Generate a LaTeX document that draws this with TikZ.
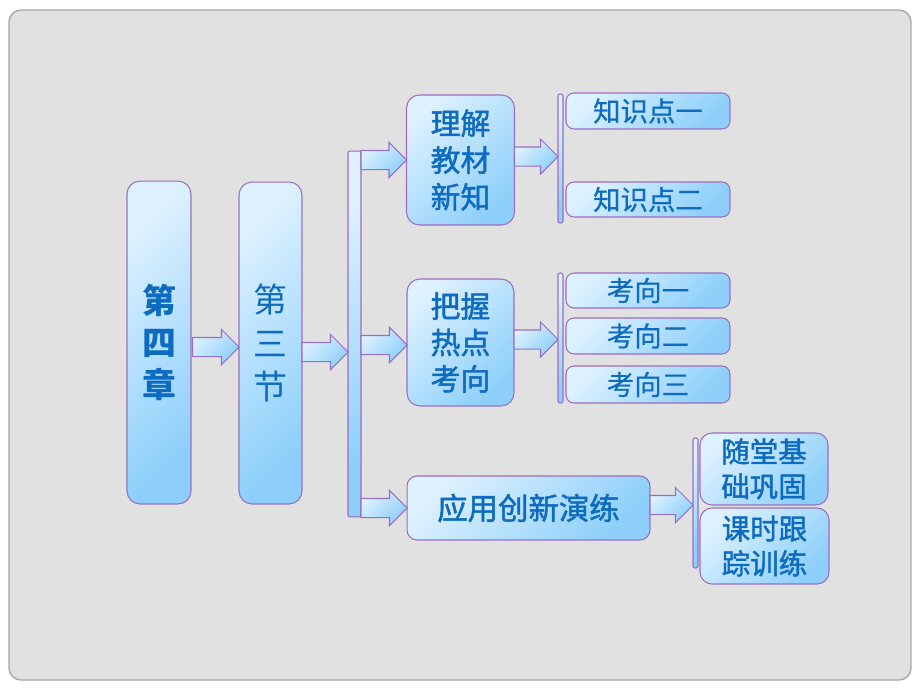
\documentclass[tikz,border=0pt]{standalone}
\usepackage{fontspec}
\setmainfont{Noto Sans CJK SC}
\newfontfamily\semibold{Noto Sans CJK SC}[FakeBold=1.6]
\newfontfamily\lightbold{Noto Sans CJK SC}[FakeBold=0.6]
\usepackage{xcolor}
\definecolor{panelgray}{HTML}{E1E1E1}
\definecolor{panelline}{HTML}{A8A8A8}
\definecolor{boxlight}{HTML}{DDF1FF}
\definecolor{boxdark}{HTML}{8DCFFA}
\definecolor{boxline}{HTML}{9A6EC2}
\definecolor{textblue}{HTML}{0E6CC0}
\usetikzlibrary{shapes.arrows,calc,positioning}

\tikzset{
  shadebox/.style={draw=boxline,line width=0.6pt,top color=boxlight,
    bottom color=boxdark,shading angle=45,text=textblue,
    inner sep=0pt,outer sep=0pt,align=center},
  bigbox/.style={shadebox,rounded corners=0.26cm},
  smallbox/.style={shadebox,rounded corners=0.16cm,minimum width=3.28cm},
  barbox/.style={shadebox,rounded corners=0.04cm},
  fatarrow/.style={single arrow,draw=boxline,line width=0.6pt,
    top color=boxlight,bottom color=boxdark,shading angle=45,
    inner xsep=0pt,inner ysep=0.18cm,single arrow head extend=0.16cm,
    single arrow head indent=0pt,single arrow tip angle=90,
    outer sep=0pt,anchor=tail}
}
% block arrow between two points at the same height
\newcommand{\fatarrow}[2]{%
  \path let \p1=#1, \p2=#2 in
    node[fatarrow,minimum height={\x2-\x1}] at (\p1) {};}

\begin{document}
\begin{tikzpicture}[x=0.02cm,y=-0.02cm]
  \useasboundingbox (0,0) rectangle (920,690);
  % Panel
  \draw[panelline,fill=panelgray,line width=0.8pt,rounded corners=0.24cm]
    (9,10) rectangle (911,680);
  % Chapter and section
  \node[bigbox,minimum width=1.28cm,minimum height=6.46cm,
        font=\fontsize{19.3}{24}\selectfont\bfseries] (chap) at (159,342.5)
        {第\\四\\章};
  \node[bigbox,minimum width=1.26cm,minimum height=6.44cm,
        font=\fontsize{19.3}{25}\selectfont] (sect) at (270.5,343)
        {第\\三\\节};
  \node[barbox,minimum width=0.26cm,minimum height=7.32cm] (bar) at (354.5,334) {};
  % Second level
  \node[bigbox,minimum width=2.16cm,minimum height=2.6cm,
        font=\fontsize{17}{21}\selectfont\semibold] (learn) at (460.5,160)
        {理解\\教材\\新知};
  \node[bigbox,minimum width=2.14cm,minimum height=2.54cm,
        font=\fontsize{17}{20.7}\selectfont\semibold] (grasp) at (460.5,342.5)
        {把握\\热点\\考向};
  \node[bigbox,rounded corners=0.2cm,minimum width=4.86cm,minimum height=1.28cm,
        font=\fontsize{17.3}{21}\selectfont\semibold] (apply) at (528.5,508)
        {应用创新演练};
  % Brackets
  \node[barbox,minimum width=0.1cm,minimum height=2.58cm] (brA) at (560.5,158.5) {};
  \node[barbox,minimum width=0.1cm,minimum height=2.6cm] (brB) at (560.5,338) {};
  \node[barbox,minimum width=0.1cm,minimum height=2.6cm] (brC) at (695.5,503) {};
  % Third level
  \node[smallbox,minimum height=0.72cm,font=\fontsize{15.6}{18}\selectfont\lightbold]
    (kA) at (648,111) {知识点一};
  \node[smallbox,minimum height=0.7cm,font=\fontsize{15.6}{18}\selectfont\lightbold]
    (kB) at (648,199.5) {知识点二};
  \node[smallbox,minimum height=0.7cm,font=\fontsize{15.6}{18}\selectfont\lightbold]
    (xA) at (648,290.5) {考向一};
  \node[smallbox,minimum height=0.72cm,font=\fontsize{15.6}{18}\selectfont\lightbold]
    (xB) at (648,336) {考向二};
  \node[smallbox,minimum height=0.74cm,font=\fontsize{15.6}{18}\selectfont\lightbold]
    (xC) at (648,384.5) {考向三};
  \node[smallbox,rounded corners=0.24cm,minimum width=2.56cm,minimum height=1.44cm,
        font=\fontsize{16.2}{19.8}\selectfont\semibold] (sA) at (764,469)
        {随堂基\\础巩固};
  \node[smallbox,rounded corners=0.24cm,minimum width=2.58cm,minimum height=1.52cm,
        font=\fontsize{16.2}{19.8}\selectfont\semibold] (sB) at (764.5,546)
        {课时跟\\踪训练};
  % Arrows
  \fatarrow{($(chap.east)+(1.5,4.5)$)}{($(sect.west)+(0,4.5)$)}
  \fatarrow{($(sect.east)+(0,9)$)}{($(bar.west)+(0,18)$)}
  \fatarrow{(bar.east |- learn.west)}{(learn.west)}
  \fatarrow{($(bar.east |- grasp.west)+(0,2.5)$)}{($(grasp.west)+(0,2.5)$)}
  \fatarrow{(bar.east |- apply.west)}{(apply.west)}
  \fatarrow{($(learn.east)+(0,-3.5)$)}{($(brA.west |- learn.east)+(0,-3.5)$)}
  \fatarrow{($(grasp.east)+(0,-3)$)}{($(brB.west |- grasp.east)+(0,-3)$)}
  \fatarrow{($(apply.east)+(0,-3)$)}{($(brC.west |- apply.east)+(0,-3)$)}
\end{tikzpicture}
\end{document}
